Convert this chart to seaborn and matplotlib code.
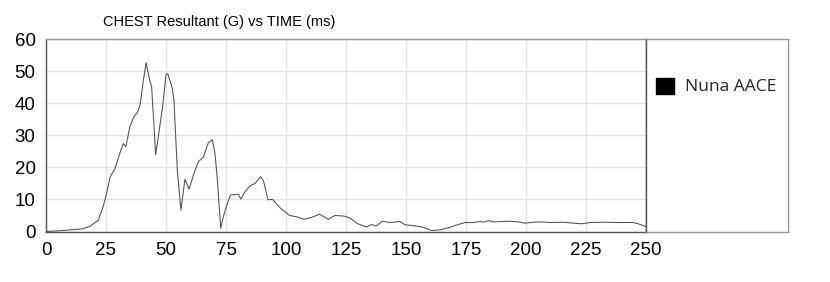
import matplotlib
matplotlib.use("Agg")
import matplotlib.pyplot as plt
import seaborn as sns
from matplotlib.patches import Patch
from matplotlib.ticker import MultipleLocator

# ---- data ----
time_ms = [0, 5, 10, 15, 18.3, 21.8, 23.9, 25.3, 26.7, 28.8,
           30.8, 32.2, 33.3, 35, 36.7, 38.1, 39.2, 40.6, 41.7, 43.3,
           44.0, 45.7, 46.8, 48.6, 50.0, 50.7, 52.4, 53.3, 54.7, 56.2,
           57.9, 59.6, 61.7, 63.5, 65.6, 67.6, 69.3, 70.4, 71.4, 72.8,
           73.9, 75.6, 76.9, 78.8, 80.1, 81.2, 82.9, 85.0, 87.1, 89.4,
           90.6, 92.5, 94.4, 97.5, 101.5, 104.4, 107.5, 110.7, 114.0, 117.6,
           120.4, 124.2, 126.7, 129.6, 133.6, 135.7, 137.5, 140.2, 143.3, 147.5,
           149.6, 154.5, 157.2, 160.7, 164.2, 168.3, 171.0, 174.6, 178.0, 180.8,
           182.5, 184.3, 186.4, 190.0, 193.3, 196.8, 199.6, 203.0, 206.5, 210.0,
           215.5, 219.7, 223.2, 226.7, 232.2, 239.2, 244.7, 246.8, 250.0]
chest_g = [0, 0.2, 0.5, 0.8, 1.6, 3.5, 8.0, 12.0, 17.0, 19.7,
           24.5, 27.4, 26.5, 32.8, 35.9, 37.1, 39.5, 47.3, 52.6, 46.8,
           45.3, 23.9, 29.6, 39.0, 48.9, 49.2, 45.3, 41.1, 19.2, 6.7,
           16.3, 13.2, 18.2, 21.8, 23.2, 27.6, 28.6, 24.4, 16.1, 1.0,
           4.6, 8.8, 11.4, 11.5, 11.6, 10.1, 12.4, 14.2, 15.0, 17.1,
           15.8, 9.9, 10.0, 7.4, 5.0, 4.6, 3.8, 4.4, 5.4, 3.8,
           5.0, 4.8, 4.2, 2.5, 1.4, 2.2, 1.7, 3.2, 2.8, 3.1,
           2.1, 1.7, 1.3, 0.3, 0.5, 1.3, 2.0, 2.8, 2.8, 3.1,
           2.9, 3.4, 3.0, 3.1, 3.2, 3.0, 2.6, 2.9, 3.0, 2.8,
           2.9, 2.6, 2.4, 2.8, 2.9, 2.8, 2.8, 2.4, 1.5]
series_name = "Nuna AACE"
title_text = "CHEST Resultant (G) vs TIME (ms)"
x_ticks = list(range(0, 251, 25))
y_ticks = list(range(0, 61, 10))

sns.set_style("white")
plt.rcParams['font.family'] = ['Liberation Sans', 'DejaVu Sans']

W, H = 830, 282
fig = plt.figure(figsize=(W / 100, H / 100), dpi=100)
fig.patch.set_facecolor("white")

def fx(px):
    return px / W

def fy(py):
    return 1 - py / H

ax = fig.add_axes([fx(46), fy(231.5), fx(646) - fx(46), fy(39) - fy(231.5)])
sns.lineplot(x=time_ms, y=chest_g, ax=ax, color="#505050", linewidth=0.75)

ax.set_xlim(0, 250)
ax.set_ylim(0, 60)
ax.set_xticks(x_ticks)
ax.set_yticks(y_ticks)
ax.xaxis.set_minor_locator(MultipleLocator(5))
ax.yaxis.set_minor_locator(MultipleLocator(5))
ax.grid(True, which="major", color="#e4e4e4", linewidth=1)
ax.set_axisbelow(True)
ax.tick_params(which="major", direction="inout", length=10, width=0.8,
               color="#555555", labelsize=13.5, labelcolor="black", pad=2.5)
ax.tick_params(which="minor", direction="inout", length=6, width=0.8,
               color="#555555")
ax.set_xlabel("")
ax.set_ylabel("")
for side in ["left", "bottom", "right"]:
    ax.spines[side].set_color("#555555")
    ax.spines[side].set_linewidth(1)
ax.spines["top"].set_color("#999999")
ax.spines["top"].set_linewidth(1)
ax.spines["top"].set_visible(True)
ax.spines["right"].set_visible(True)

fig.text(fx(103), fy(22), title_text, ha="left", va="center",
         fontsize=10.5, color="black")

# legend box
lax = fig.add_axes([fx(646), fy(231.5), fx(788) - fx(646), fy(39) - fy(231.5)])
lax.set_xticks([])
lax.set_yticks([])
for s in lax.spines.values():
    s.set_color("#999999")
    s.set_linewidth(1)
lax.spines["left"].set_color("#555555")
handle = Patch(facecolor="black", edgecolor="black", label=series_name)
lax.legend(handles=[handle], loc="upper left", bbox_to_anchor=(0.07, 0.80),
           frameon=False, borderpad=0, borderaxespad=0, handlelength=1.05,
           handleheight=1.05, handletextpad=0.6,
           prop={"family": ["Open Sans", "DejaVu Sans"], "size": 12.5})

fig.savefig("out.png", dpi=100, facecolor="white")
